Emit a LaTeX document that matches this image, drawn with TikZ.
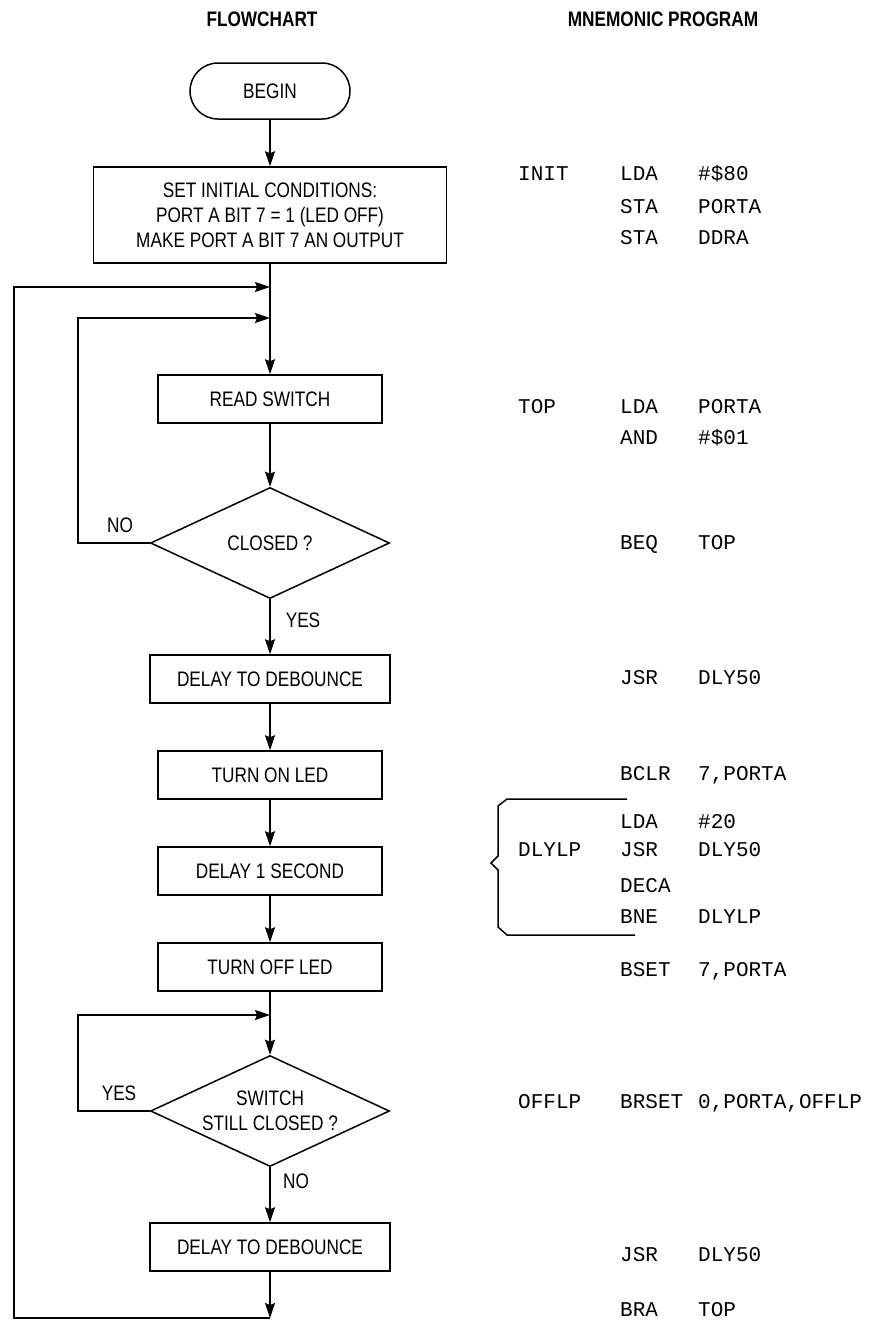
\documentclass[tikz,border=0pt]{standalone}
\usepackage{fontspec}
\setmainfont{Liberation Sans}[FakeStretch=0.82]
\setmonofont{Liberation Mono}
\usepackage{tikz}
\usetikzlibrary{shapes.geometric, arrows.meta, positioning}

\begin{document}
\begin{tikzpicture}[
    x=1pt, y=-1pt,
    every node/.style={font=\fontsize{21}{25}\selectfont},
    box/.style={draw, line width=1.5pt, align=center, minimum width=224pt, minimum height=48pt, inner sep=0pt},
    terminal/.style={box, rounded corners=28pt, minimum width=160pt, minimum height=56pt},
    decision/.style={box, diamond, shape aspect=2.15, minimum width=239pt, minimum height=111pt},
    flow/.style={line width=1.5pt, -{Stealth[length=15pt, width=10pt, inset=2pt]}},
    code/.style={anchor=base west, inner sep=0pt, font=\fontsize{21}{25}\selectfont\ttfamily},
    lbl/.style={inner sep=0pt},
    head/.style={inner sep=0pt, font=\fontsize{21}{25}\selectfont\bfseries}
]
\useasboundingbox (0,0) rectangle (873,1320);

% headings
\node[head] (hFlow) at (262,19) {FLOWCHART};
\node[head] (hProg) at (663,19) {MNEMONIC PROGRAM};

% flowchart
\node[terminal] (begin) at (270,91) {BEGIN};
\node[box, minimum width=353pt, minimum height=96pt] (init) at (270,215) {SET INITIAL CONDITIONS:\\PORT A BIT 7 = 1 (LED OFF)\\MAKE PORT A BIT 7 AN OUTPUT};
\node[box] (readsw) at (270,399) {READ SWITCH};
\node[decision] (closed) at (270,543) {CLOSED ?};
\node[box, minimum width=240pt] (debA) at (270,679) {DELAY TO DEBOUNCE};
\node[box] (ledon) at (270,775) {TURN ON LED};
\node[box] (wait1s) at (270,871) {DELAY 1 SECOND};
\node[box] (ledoff) at (270,967) {TURN OFF LED};
\node[decision] (still) at (270,1111) {SWITCH\\STILL CLOSED ?};
\node[box, minimum width=240pt] (debB) at (270,1247) {DELAY TO DEBOUNCE};

\coordinate (topout) at (270,287);
\coordinate (topin) at (270,318);
\coordinate (offin) at (270,1015);
\coordinate (bot) at (270,1318);
\coordinate (outer) at (14,1318);
\coordinate (noback) at (78,543);
\coordinate (yesback) at (78,1111);

\draw[flow] (begin) -- (init);
\draw[flow] (init) -- (readsw);
\draw[flow] (readsw) -- (closed);
\draw[flow] (closed) -- (debA);
\draw[flow] (debA) -- (ledon);
\draw[flow] (ledon) -- (wait1s);
\draw[flow] (wait1s) -- (ledoff);
\draw[flow] (ledoff) -- (still);
\draw[flow] (still) -- (debB);
\draw[flow] (debB) -- (bot);
\draw[flow] (closed.west) -- (noback) |- (topin);
\draw[flow] (still.west) -- (yesback) |- (offin);
\draw[flow] (bot) -- (outer) |- (topout);

\node[lbl] (noA) at (120,525) {NO};
\node[lbl] (yesA) at (303,620) {YES};
\node[lbl] (yesB) at (119,1093) {YES};
\node[lbl] (noB) at (296,1181) {NO};

% program listing
\node[code] (lInit) at (518,180) {INIT};
\node[code] (oInit) at (620,180) {LDA};
\node[code] (aInit) at (698,180) {\#\$80};
\node[code] (oSta1) at (620,213) {STA};
\node[code] (aSta1) at (698,213) {PORTA};
\node[code] (oSta2) at (620,244) {STA};
\node[code] (aSta2) at (698,244) {DDRA};
\node[code] (lTop) at (518,413) {TOP};
\node[code] (oTop) at (620,413) {LDA};
\node[code] (aTop) at (698,413) {PORTA};
\node[code] (oAnd) at (620,444) {AND};
\node[code] (aAnd) at (698,444) {\#\$01};
\node[code] (oBeq) at (620,549) {BEQ};
\node[code] (aBeq) at (698,549) {TOP};
\node[code] (oJsrA) at (620,684) {JSR};
\node[code] (aJsrA) at (698,684) {DLY50};
\node[code] (oBclr) at (620,780) {BCLR};
\node[code] (aBclr) at (698,780) {7,PORTA};
\node[code] (oLda) at (620,828) {LDA};
\node[code] (aLda) at (698,828) {\#20};
\node[code] (lDly) at (518,856) {DLYLP};
\node[code] (oJsrB) at (620,856) {JSR};
\node[code] (aJsrB) at (698,856) {DLY50};
\node[code] (oDeca) at (620,892) {DECA};
\node[code] (oBne) at (620,923) {BNE};
\node[code] (aBne) at (698,923) {DLYLP};
\node[code] (oBset) at (620,976) {BSET};
\node[code] (aBset) at (698,976) {7,PORTA};
\node[code] (lOff) at (518,1108) {OFFLP};
\node[code] (oBrset) at (620,1108) {BRSET};
\node[code] (aBrset) at (698,1108) {0,PORTA,OFFLP};
\node[code] (oJsrC) at (620,1261) {JSR};
\node[code] (aJsrC) at (698,1261) {DLY50};
\node[code] (oBra) at (620,1316) {BRA};
\node[code] (aBra) at (698,1316) {TOP};

% brace round the delay loop
\draw[line width=1.5pt] (627,799) -- (507,799) -- (498,806) -- (498,856) -- (491,863)
    -- (498,870) -- (498,927) -- (507,935) -- (635,935);
\end{tikzpicture}
\end{document}
